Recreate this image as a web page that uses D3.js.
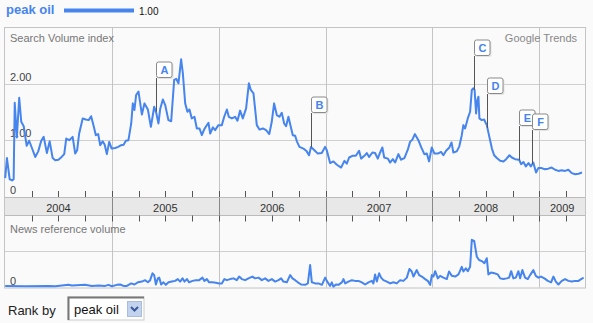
<!DOCTYPE html>
<html><head><meta charset="utf-8">
<script src="https://cdn.jsdelivr.net/npm/d3@7"></script>
<style>
html,body{margin:0;padding:0;background:#fafafa;}
svg{display:block;font-family:"Liberation Sans",Arial,sans-serif;}
</style></head>
<body><svg id="c" width="593" height="323"></svg>
<script>
// ---- DATA ----
const seriesName = "peak oil";
const legendValue = "1.00";
const yearLabels = ["2004","2005","2006","2007","2008","2009"];
const searchTicks = [0, 1, 2];
const searchTickLabels = ["0", "1.00", "2.00"];
// time: years since 1 Jan 2004
const searchT = [0.002,0.018,0.044,0.067,0.081,0.091,0.111,0.133,0.152,0.175,0.203,0.226,0.252,0.283,0.311,0.339,0.362,0.392,0.418,0.446,0.470,0.500,0.530,0.554,0.573,0.601,0.633,0.657,0.675,0.694,0.727,0.755,0.783,0.806,0.830,0.850,0.872,0.891,0.914,0.933,0.953,0.975,0.998,1.031,1.059,1.087,1.110,1.131,1.155,1.181,1.196,1.211,1.227,1.249,1.281,1.305,1.337,1.365,1.396,1.414,1.436,1.452,1.477,1.499,1.529,1.555,1.583,1.602,1.623,1.648,1.664,1.686,1.707,1.726,1.748,1.773,1.795,1.820,1.842,1.863,1.882,1.904,1.920,1.945,1.966,1.997,2.029,2.051,2.076,2.094,2.123,2.153,2.175,2.200,2.225,2.256,2.282,2.300,2.325,2.356,2.381,2.413,2.443,2.473,2.496,2.518,2.543,2.568,2.590,2.612,2.630,2.652,2.674,2.693,2.715,2.731,2.755,2.792,2.823,2.845,2.863,2.895,2.927,2.964,2.995,3.011,3.042,3.073,3.105,3.145,3.176,3.198,3.220,3.251,3.283,3.313,3.332,3.363,3.385,3.407,3.438,3.463,3.488,3.510,3.531,3.548,3.582,3.603,3.629,3.650,3.681,3.706,3.737,3.769,3.790,3.812,3.835,3.868,3.893,3.924,3.947,3.968,3.993,4.018,4.050,4.080,4.102,4.127,4.158,4.178,4.195,4.227,4.251,4.274,4.289,4.305,4.330,4.352,4.368,4.383,4.394,4.408,4.420,4.430,4.439,4.461,4.483,4.508,4.532,4.556,4.577,4.602,4.633,4.664,4.689,4.720,4.742,4.773,4.811,4.829,4.851,4.874,4.898,4.920,4.943,4.969,4.990,5.021,5.052,5.083,5.115,5.147,5.178,5.209,5.240,5.271,5.303,5.336,5.367,5.399];
const searchV = [0.32,0.68,0.30,0.28,0.30,1.67,1.05,1.76,1.33,1.25,0.90,0.99,0.86,0.70,0.80,0.99,1.06,0.77,0.98,0.68,0.64,0.65,0.70,0.75,1.03,1.00,1.06,0.76,0.82,1.12,1.39,1.37,1.36,1.43,1.25,1.09,1.11,0.91,0.98,0.92,0.75,0.97,0.85,0.86,0.88,0.91,0.92,0.99,1.00,1.30,1.66,1.54,1.81,1.87,1.46,1.66,1.55,1.24,1.60,1.50,1.30,1.56,1.73,1.63,1.36,1.34,2.08,2.10,2.02,2.45,2.20,1.66,1.51,1.55,1.39,1.42,1.21,1.21,1.09,1.19,1.25,1.31,1.12,1.23,1.18,1.27,1.27,1.42,1.55,1.42,1.39,1.42,1.35,1.53,1.39,1.57,2.02,1.90,1.84,1.27,1.19,1.21,1.18,1.11,1.33,1.66,1.45,1.42,1.49,1.30,1.25,1.42,1.24,1.09,1.08,0.98,0.88,0.85,0.80,0.73,0.88,0.82,0.76,0.77,0.88,0.82,0.59,0.62,0.56,0.51,0.63,0.58,0.69,0.72,0.72,0.81,0.67,0.72,0.77,0.70,0.78,0.77,0.67,0.78,0.87,0.69,0.67,0.60,0.66,0.60,0.75,0.65,0.68,0.83,0.97,1.01,1.11,1.00,0.88,0.75,0.76,0.62,0.87,0.76,0.76,0.79,0.73,0.81,0.87,0.96,0.78,0.80,0.89,1.09,1.27,1.21,1.39,1.51,1.90,1.93,1.90,1.48,1.72,1.78,1.39,1.36,1.37,1.27,1.06,0.85,0.73,0.68,0.63,0.62,0.66,0.73,0.69,0.66,0.65,0.57,0.61,0.53,0.59,0.53,0.60,0.42,0.50,0.50,0.48,0.49,0.51,0.47,0.45,0.46,0.45,0.47,0.41,0.39,0.40,0.42];
const newsT = [0.002,0.189,0.407,0.470,0.594,0.626,0.750,0.813,0.875,0.937,0.968,1.000,1.047,1.078,1.109,1.140,1.181,1.211,1.243,1.281,1.312,1.337,1.358,1.380,1.396,1.412,1.430,1.443,1.461,1.483,1.505,1.530,1.561,1.592,1.617,1.639,1.661,1.679,1.702,1.723,1.754,1.786,1.817,1.848,1.866,1.889,1.910,1.941,1.973,2.004,2.029,2.053,2.076,2.107,2.138,2.169,2.191,2.216,2.247,2.278,2.315,2.340,2.372,2.403,2.434,2.465,2.497,2.528,2.559,2.584,2.605,2.637,2.668,2.690,2.715,2.740,2.771,2.808,2.834,2.855,2.871,2.902,2.933,2.965,2.996,3.011,3.026,3.042,3.058,3.073,3.096,3.120,3.152,3.167,3.183,3.213,3.245,3.276,3.307,3.339,3.370,3.401,3.432,3.447,3.463,3.479,3.501,3.519,3.541,3.573,3.604,3.634,3.666,3.697,3.728,3.760,3.784,3.806,3.822,3.853,3.875,3.900,3.931,3.956,3.978,3.994,4.009,4.025,4.050,4.071,4.102,4.134,4.155,4.181,4.212,4.243,4.274,4.289,4.312,4.330,4.352,4.368,4.390,4.415,4.436,4.461,4.486,4.508,4.523,4.548,4.579,4.611,4.633,4.663,4.695,4.717,4.736,4.757,4.780,4.804,4.820,4.841,4.866,4.892,4.913,4.944,4.967,4.991,5.016,5.047,5.079,5.110,5.131,5.154,5.178,5.210,5.241,5.272,5.304,5.335,5.366,5.391,5.414];
const newsV = [0.03,0.02,0.03,0.02,0.06,0.04,0.06,0.03,0.04,0.03,0.06,0.02,0.06,0.07,0.03,0.03,0.10,0.07,0.13,0.15,0.19,0.13,0.19,0.38,0.33,0.07,0.24,0.26,0.07,0.13,0.06,0.13,0.15,0.17,0.22,0.15,0.24,0.15,0.22,0.13,0.17,0.19,0.19,0.26,0.17,0.22,0.13,0.13,0.12,0.10,0.10,0.22,0.19,0.22,0.24,0.19,0.29,0.22,0.19,0.24,0.29,0.24,0.26,0.19,0.24,0.17,0.22,0.15,0.19,0.24,0.15,0.13,0.33,0.24,0.19,0.13,0.07,0.06,0.10,0.61,0.13,0.10,0.10,0.06,0.26,0.17,0.10,0.03,0.13,0.01,0.07,0.06,0.13,0.22,0.10,0.15,0.19,0.17,0.17,0.13,0.07,0.13,0.17,0.10,0.35,0.15,0.38,0.26,0.19,0.15,0.10,0.13,0.10,0.19,0.17,0.26,0.50,0.43,0.29,0.47,0.33,0.29,0.22,0.17,0.06,0.33,0.29,0.44,0.24,0.31,0.26,0.22,0.43,0.31,0.29,0.35,0.56,0.43,0.52,0.44,0.56,1.31,1.28,0.84,0.75,0.72,0.66,0.80,0.35,0.40,0.38,0.35,0.24,0.22,0.24,0.26,0.44,0.24,0.26,0.44,0.24,0.47,0.26,0.22,0.33,0.47,0.31,0.26,0.29,0.24,0.17,0.13,0.29,0.15,0.07,0.17,0.22,0.17,0.15,0.17,0.17,0.22,0.26];
const annLetters = ["A","B","C","D","E","F"];
const annT = [1.412,2.862,4.393,4.514,4.813,4.934];

// ---- LAYOUT ----
const L = 5, R = 585;
const topY0 = 28, zeroY = 196, bandTop = 197, bandBot = 215.5, botY = 287.5;
const blue = "#4684ee";
const svg = d3.select("#c");
const x = d3.scaleLinear().domain([0, 5.427]).range([L, R]);
const y = d3.scaleLinear().domain([0, 3]).range([zeroY, topY0 + 0.6]);
const yn = d3.scaleLinear().domain([0, 2]).range([287, 215]);
const FONT = '"Liberation Sans",Arial,sans-serif';

// legend
svg.append("text").attr("x",6).attr("y",14).attr("font-size",13).attr("font-weight","bold").attr("fill",blue).text(seriesName);
svg.append("rect").attr("x",64).attr("y",8.5).attr("width",70).attr("height",4).attr("fill",blue);
svg.append("text").attr("x",139).attr("y",14.5).attr("font-size",10).attr("fill","#111").text(legendValue);

// background panels
svg.append("rect").attr("x",L).attr("y",topY0).attr("width",R-L).attr("height",botY-topY0).attr("fill","#fafafa");
svg.append("rect").attr("x",L).attr("y",bandTop).attr("width",R-L).attr("height",bandBot-bandTop).attr("fill","#e8e8e8");

const years = d3.range(0, 6);
const quarters = d3.range(0, 5.427, 0.25);

// horizontal gridlines top
svg.append("g").selectAll("line").data(searchTicks.filter(d=>d>0)).join("line")
  .attr("x1",L).attr("x2",R).attr("y1",d=>Math.round(y(d))+0.5).attr("y2",d=>Math.round(y(d))+0.5)
  .attr("stroke","#cfcfcf");
// bottom gridline
svg.append("line").attr("x1",L).attr("x2",R).attr("y1",Math.round(yn(1))+0.5).attr("y2",Math.round(yn(1))+0.5).attr("stroke","#cfcfcf");

// vertical year gridlines
years.filter(d=>d>0).forEach(d=>{
  const xx = Math.round(x(d))+0.5;
  svg.append("line").attr("x1",xx).attr("x2",xx).attr("y1",topY0).attr("y2",bandTop).attr("stroke","#c4c4c4");
  svg.append("line").attr("x1",xx).attr("x2",xx).attr("y1",bandBot).attr("y2",botY).attr("stroke","#c4c4c4");
  svg.append("line").attr("x1",xx).attr("x2",xx).attr("y1",bandTop).attr("y2",bandBot).attr("stroke","#888");
});

// band borders
svg.append("line").attr("x1",L).attr("x2",R).attr("y1",bandTop+0.5).attr("y2",bandTop+0.5).attr("stroke","#bbb");
svg.append("line").attr("x1",L).attr("x2",R).attr("y1",bandBot).attr("y2",bandBot).attr("stroke","#bbb");

// quarter ticks
quarters.forEach(q=>{
  const xx = Math.round(x(q))+0.5;
  if (q===0) return;
  svg.append("line").attr("x1",xx).attr("x2",xx).attr("y1",bandTop-6).attr("y2",bandTop).attr("stroke","#555");
  svg.append("line").attr("x1",xx).attr("x2",xx).attr("y1",bandBot).attr("y2",bandBot+6).attr("stroke","#555");
});

// year labels
svg.append("g").selectAll("text").data(yearLabels).join("text")
  .attr("x",(d,i)=> (x(i) + Math.min(x(i+1), R))/2).attr("y",211.5)
  .attr("text-anchor","middle").attr("font-size",11).attr("fill","#333").text(d=>d);

// frame
svg.append("rect").attr("x",L-0.5).attr("y",topY0-0.5).attr("width",R-L+1).attr("height",botY-topY0+1)
  .attr("fill","none").attr("stroke","#c4c4c4");

// titles
svg.append("text").attr("x",10).attr("y",42).attr("font-size",11).attr("fill","#777").text("Search Volume index");
svg.append("text").attr("x",577).attr("y",42).attr("font-size",11).attr("fill","#888").attr("text-anchor","end").text("Google Trends");
svg.append("text").attr("x",10).attr("y",233).attr("font-size",11).attr("fill","#777").text("News reference volume");

// y labels
svg.append("g").selectAll("text").data(searchTicks).join("text")
  .attr("x",10).attr("y",d=> d===0 ? y(d)-2.5 : y(d)-3)
  .attr("font-size",11).attr("fill","#444").text((d,i)=>searchTickLabels[i]);
svg.append("text").attr("x",10).attr("y",285).attr("font-size",11).attr("fill","#444").text("0");

// lines
const search = searchT.map((t,i)=>({t, v: searchV[i]}));
const news = newsT.map((t,i)=>({t, v: newsV[i]}));
svg.append("path").datum(search).attr("fill","none").attr("stroke",blue).attr("stroke-width",2)
  .attr("stroke-linejoin","round").attr("d", d3.line().x(d=>x(d.t)).y(d=>y(d.v)));
svg.append("path").datum(news).attr("fill","none").attr("stroke",blue).attr("stroke-width",2)
  .attr("stroke-linejoin","round").attr("d", d3.line().x(d=>x(d.t)).y(d=>yn(d.v)));

// annotations
function valueAt(t){
  const i = d3.bisector(d=>d.t).left(search, t);
  if (i<=0) return search[0].v;
  if (i>=search.length) return search[search.length-1].v;
  const a = search[i-1], b = search[i];
  return a.v + (b.v-a.v)*(t-a.t)/(b.t-a.t);
}
const ann = annLetters.map((l,i)=>({l, t: annT[i]}));
const ag = svg.append("g");
ann.forEach(a=>{
  const xx = Math.round(x(a.t))+0.5;
  const yb = y(valueAt(a.t));
  const boxB = Math.round(yb - 34);
  ag.append("line").attr("x1",xx).attr("x2",xx).attr("y1",boxB).attr("y2",yb).attr("stroke","#555");
  ag.append("rect").attr("x",xx+1).attr("y",boxB-15).attr("width",16).attr("height",16).attr("rx",2)
    .attr("fill","#e4e4e4");
  ag.append("rect").attr("x",xx).attr("y",boxB-16).attr("width",15.5).attr("height",15.5).attr("rx",2)
    .attr("fill","#fff").attr("stroke","#8a8a8a");
  ag.append("text").attr("x",xx+8).attr("y",boxB-4.5).attr("text-anchor","middle")
    .attr("font-size",11).attr("font-weight","bold").attr("fill",blue).text(a.l);
});

// Rank by control
svg.append("text").attr("x",8).attr("y",315).attr("font-size",13).attr("fill","#222").text("Rank by");
svg.append("rect").attr("x",68).attr("y",297).attr("width",76).attr("height",23).attr("fill","#fff").attr("stroke","#ccc");
svg.append("path").attr("d","M68.5,320 V297.5 H144").attr("fill","none").attr("stroke","#777").attr("stroke-width",2);
svg.append("text").attr("x",74).attr("y",314).attr("font-size",13).attr("fill","#111").text(seriesName);
svg.append("rect").attr("x",127.5).attr("y",301.5).attr("width",14).attr("height",15).attr("fill","#c3d3ee").attr("stroke","#a8bde0");
svg.append("path").attr("d","M131,307 L134.5,310.5 L138,307").attr("fill","none").attr("stroke","#3a5a98").attr("stroke-width",2);
</script></body></html>
